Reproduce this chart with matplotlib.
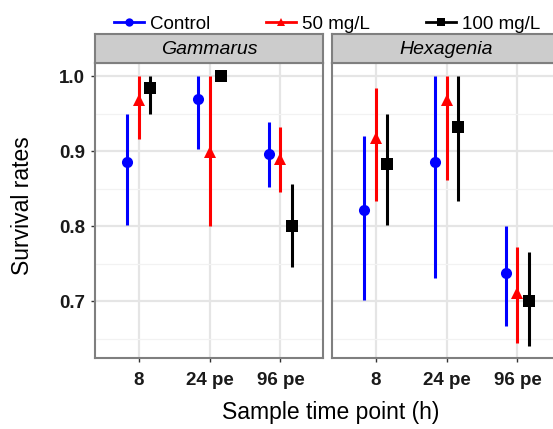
import matplotlib
matplotlib.use("Agg")
import matplotlib.pyplot as plt
import numpy as np
from matplotlib.lines import Line2D

plt.rcParams['font.family'] = ['Liberation Sans', 'DejaVu Sans']

timepoints = ["8", "24 pe", "96 pe"]
panels = ["Gammarus", "Hexagenia"]
groups = ["Control", "50 mg/L", "100 mg/L"]
colors = ["#0000FF", "#FF0000", "#000000"]
markers = ["o", "^", "s"]

# Gammarus: mean, lower, upper per group for each time point
gam_mean = {"Control": [0.885, 0.969, 0.896],
            "50 mg/L": [0.968, 0.899, 0.889],
            "100 mg/L": [0.984, 1.000, 0.800]}
gam_lo = {"Control": [0.801, 0.903, 0.852],
          "50 mg/L": [0.916, 0.800, 0.845],
          "100 mg/L": [0.949, 1.000, 0.746]}
gam_hi = {"Control": [0.950, 1.000, 0.939],
          "50 mg/L": [1.000, 1.000, 0.932],
          "100 mg/L": [1.000, 1.000, 0.856]}
# Hexagenia
hex_mean = {"Control": [0.822, 0.886, 0.737],
            "50 mg/L": [0.917, 0.968, 0.711],
            "100 mg/L": [0.883, 0.932, 0.700]}
hex_lo = {"Control": [0.701, 0.731, 0.667],
          "50 mg/L": [0.834, 0.862, 0.644],
          "100 mg/L": [0.801, 0.833, 0.640]}
hex_hi = {"Control": [0.920, 1.000, 0.800],
          "50 mg/L": [0.984, 1.000, 0.772],
          "100 mg/L": [0.950, 1.000, 0.766]}

data = {"Gammarus": (gam_mean, gam_lo, gam_hi),
        "Hexagenia": (hex_mean, hex_lo, hex_hi)}

W, H = 553, 429
fig = plt.figure(figsize=(W / 100, H / 100), dpi=100)

def fx(px):
    return px / W

def fy(py):
    return 1 - py / H

panel_left = [95, 332]
panel_w = 228
top, bottom = 63.3, 358
strip_top = 34
offsets = [-1 / 6, 0, 1 / 6]
edge = "#7F7F7F"

for i, pname in enumerate(panels):
    ax = fig.add_axes([fx(panel_left[i]), fy(bottom), fx(panel_w), (bottom - top) / H])
    ax.set_xlim(0.385, 3.6)
    ax.set_ylim(0.624, 1.017)
    ax.set_yticks([0.7, 0.8, 0.9, 1.0])
    ax.set_yticks([0.65, 0.75, 0.85, 0.95], minor=True)
    x = np.arange(1, len(timepoints) + 1)
    ax.set_xticks(x)
    ax.set_xticklabels(timepoints, fontsize=13.5, fontweight="bold", color="#1A1A1A")
    ax.grid(True, which="major", color="#E5E5E5", lw=1.6)
    ax.grid(True, which="minor", axis="y", color="#F2F2F2", lw=0.9)
    ax.set_axisbelow(True)
    for s in ax.spines.values():
        s.set_color(edge)
        s.set_linewidth(1.5)
    ax.tick_params(axis="both", which="major", color="#333333", length=3, width=1, pad=4)
    ax.tick_params(axis="x", which="major", pad=7)
    ax.tick_params(axis="y", which="minor", length=0)
    if i == 0:
        ax.set_yticklabels(["0.7", "0.8", "0.9", "1.0"], fontsize=13.5, fontweight="bold",
                           color="#1A1A1A")
    else:
        ax.tick_params(axis="y", which="major", length=0, labelleft=False)
    mean, lo, hi = data[pname]
    for g, c, m, off in zip(groups, colors, markers, offsets):
        mu = np.array(mean[g])
        l = np.array(lo[g])
        h = np.array(hi[g])
        ax.errorbar(x + off, mu, yerr=[mu - l, h - mu], fmt=m, color=c, ms=8,
                    elinewidth=2.2, capsize=0, mew=0, zorder=3)
    # strip
    sax = fig.add_axes([fx(panel_left[i]), fy(top), fx(panel_w), (top - strip_top) / H])
    sax.set_facecolor("#CCCCCC")
    sax.set_xticks([])
    sax.set_yticks([])
    for s in sax.spines.values():
        s.set_color(edge)
        s.set_linewidth(1.5)
    sax.text(0.5, 0.47, pname, style="italic", fontsize=14, ha="center", va="center",
             transform=sax.transAxes)

fig.text(fx(331), fy(413), "Sample time point (h)", fontsize=16.5, ha="center", va="center")
fig.text(fx(23), fy(206), "Survival rates", fontsize=16.5, rotation=90, ha="center", va="center")

handles = [Line2D([0], [0], color=c, marker=m, lw=2, ms=6, mew=0)
           for c, m in zip(colors, markers)]
fig.legend(handles, groups, loc="center", bbox_to_anchor=(fx(327), fy(24)), ncol=3,
           frameon=False, fontsize=13.5, handlelength=1.6, handletextpad=0.3,
           columnspacing=3.0, borderaxespad=0)

fig.savefig("out.png", dpi=100)
